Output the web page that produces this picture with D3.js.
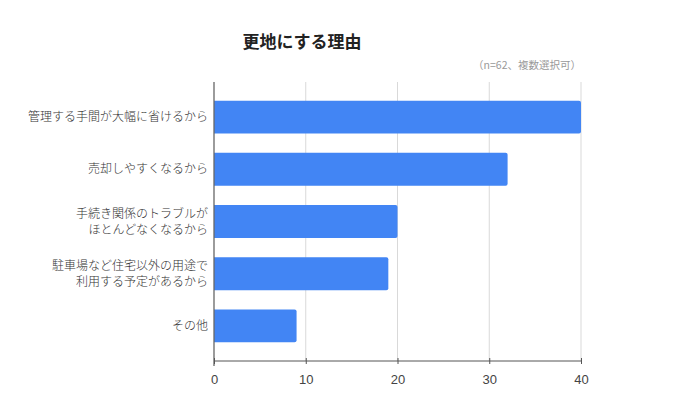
<!DOCTYPE html>
<html><head><meta charset="utf-8">
<script src="https://cdn.jsdelivr.net/npm/d3@7"></script>
<style>body{margin:0;background:#fff;} svg{display:block;}</style>
</head><body>
<svg id="chart" width="680" height="407"></svg>
<script>
const categories = [
  ["管理する手間が大幅に省けるから"],
  ["売却しやすくなるから"],
  ["手続き関係のトラブルが", "ほとんどなくなるから"],
  ["駐車場など住宅以外の用途で", "利用する予定があるから"],
  ["その他"]
];
const values = [40, 32, 20, 19, 9];
const tickValues = [0, 10, 20, 30, 40];
const title = "更地にする理由";
const subtitle = "（n=62、複数選択可）";

const svg = d3.select("#chart");
const font = "'Noto Sans CJK JP', 'Noto Sans', sans-serif";
const plotLeft = 214, plotRight = 581, plotTop = 82, plotBottom = 361;

const x = d3.scaleLinear().domain([0, 40]).range([plotLeft, plotRight]);
const y = d3.scaleBand().domain(d3.range(categories.length)).range([plotTop, plotBottom])
  .paddingInner(0.37).paddingOuter(0.357);

// gridlines
svg.append("g").selectAll("line").data(tickValues.slice(1)).join("line")
  .attr("x1", d => x(d)).attr("x2", d => x(d))
  .attr("y1", plotTop).attr("y2", plotBottom)
  .attr("stroke", "#d9d9d9").attr("stroke-width", 1);

// bars
svg.append("g").selectAll("path").data(values).join("path")
  .attr("d", (d, i) => {
    const x0 = x(0), x1 = x(d), y0 = y(i), h = y.bandwidth(), r = 2;
    return `M${x0},${y0}H${x1 - r}Q${x1},${y0} ${x1},${y0 + r}V${y0 + h - r}Q${x1},${y0 + h} ${x1 - r},${y0 + h}H${x0}Z`;
  })
  .attr("fill", "#4285f4");

// zero line
svg.append("line").attr("x1", x(0)).attr("x2", x(0)).attr("y1", plotTop).attr("y2", plotBottom + 5)
  .attr("stroke", "#666").attr("stroke-width", 1.3);

// x axis
const ax = svg.append("g").attr("transform", `translate(0,${plotBottom})`)
  .call(d3.axisBottom(x).tickValues(tickValues).tickSize(3).tickPadding(11));
ax.select(".domain").attr("stroke", "#555").attr("d", `M${plotLeft},0H${plotRight}`);
ax.selectAll(".tick line").attr("stroke", "#555").attr("y1", -3).attr("y2", 3);
ax.selectAll(".tick text").attr("fill", "#444").style("font-family", "Arial, 'Liberation Sans', sans-serif").style("font-size", "13px");

// category labels
const lab = svg.append("g").selectAll("text").data(categories).join("text")
  .attr("text-anchor", "end")
  .attr("fill", "#333")
  .style("font-family", font).style("font-size", "12px").style("font-weight", "300");
lab.each(function(lines, i) {
  const cy = y(i) + y.bandwidth() / 2;
  const lh = 16;
  const start = cy - (lines.length - 1) * lh / 2;
  d3.select(this).selectAll("tspan").data(lines).join("tspan")
    .attr("x", 208).attr("y", (l, j) => start + j * lh).attr("dy", "0.35em").text(l => l);
});

// title
svg.append("text").attr("x", 302).attr("y", 48).attr("text-anchor", "middle")
  .attr("fill", "#222").style("font-family", font).style("font-size", "17px").style("font-weight", "bold")
  .text(title);
svg.append("text").attr("x", 581).attr("y", 69).attr("text-anchor", "end")
  .attr("fill", "#999").style("font-family", font).style("font-size", "10.5px")
  .text(subtitle);
</script>
</body></html>
